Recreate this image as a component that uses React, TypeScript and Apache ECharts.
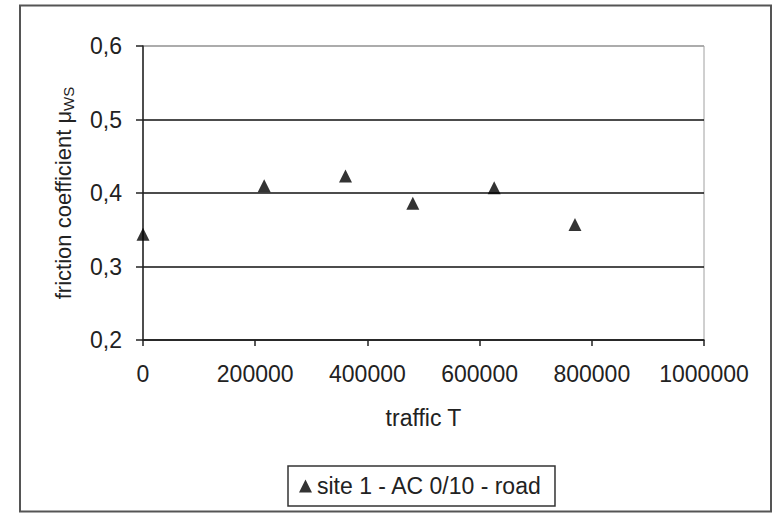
import React, { useEffect, useRef } from "react";
import * as echarts from "echarts";

const trafficValues = [0, 216000, 361000, 481000, 626000, 770000];
const frictionValues = [0.344, 0.41, 0.423, 0.386, 0.407, 0.357];
const seriesName = "site 1 - AC 0/10 - road";
const xAxisTitle = "traffic T";
const yAxisTitleMain = "friction coefficient μ";
const yAxisTitleSub = "WS";

const FONT = "'Liberation Sans', Arial, sans-serif";

export default function App() {
  const ref = useRef<HTMLDivElement>(null);
  useEffect(() => {
    if (!ref.current) return;
    const chart = echarts.init(ref.current, undefined, { renderer: "svg" });
    const data = trafficValues.map((t, i) => [t, frictionValues[i]]);
    chart.setOption({
      animation: false,
      backgroundColor: "#fff",
      textStyle: { fontFamily: FONT, color: "#222" },
      grid: { left: 143, right: 71, top: 46, bottom: 174, show: true, borderColor: "#a0a0a0", borderWidth: 1 },
      xAxis: {
        type: "value",
        min: 0,
        max: 1000000,
        interval: 200000,
        name: xAxisTitle,
        nameLocation: "middle",
        nameGap: 66,
        nameTextStyle: { fontSize: 23, color: "#222", fontFamily: FONT },
        axisLine: { show: true, lineStyle: { color: "#222", width: 1.5 } },
        axisTick: { show: true, length: 6, lineStyle: { color: "#222", width: 1.5 } },
        axisLabel: { fontSize: 23, color: "#222", margin: 22, formatter: (v: number) => String(v) },
        splitLine: { show: false },
      },
      yAxis: {
        type: "value",
        min: 0.2,
        max: 0.6,
        interval: 0.1,
        name: `{a|${yAxisTitleMain}}{s|${yAxisTitleSub}}`,
        nameLocation: "middle",
        nameGap: 69,
        nameTextStyle: {
          fontFamily: FONT,
          color: "#222",
          rich: {
            a: { fontSize: 22, lineHeight: 26, color: "#222", fontFamily: FONT, verticalAlign: "bottom" },
            s: { fontSize: 15, lineHeight: 15, color: "#222", fontFamily: FONT, verticalAlign: "bottom", padding: [0, 0, -2, 0] },
          },
        },
        axisLine: { show: true, lineStyle: { color: "#222", width: 1.5 } },
        axisTick: { show: true, length: 7, lineStyle: { color: "#222", width: 1.5 } },
        axisLabel: {
          fontSize: 23,
          color: "#222",
          margin: 21,
          formatter: (v: number) => v.toFixed(1).replace(".", ","),
        },
        splitLine: {
          show: true,
          lineStyle: { color: ["#111", "#111", "#111", "#111", "#a0a0a0"], width: 1.5 },
        },
      },
      legend: {
        show: true,
        left: 288,
        top: 466,
        orient: "horizontal",
        padding: [7, 13, 7, 11],
        borderColor: "#333",
        borderWidth: 1.5,
        itemWidth: 13,
        itemHeight: 13,
        itemGap: 6,
        textStyle: { fontSize: 23, color: "#222", fontFamily: FONT, lineHeight: 26 },
        data: [{ name: seriesName, icon: "triangle" }],
      },
      graphic: [
        {
          type: "rect",
          shape: { x: 20, y: 5.5, width: 751, height: 506 },
          style: { fill: "none", stroke: "#555", lineWidth: 2 },
          silent: true,
          z: -1,
        },
      ],
      series: [
        {
          name: seriesName,
          type: "scatter",
          symbol: "triangle",
          symbolSize: 13,
          itemStyle: { color: "#000" },
          data,
        },
      ],
    });
    return () => chart.dispose();
  }, []);
  return (
    <div
      ref={ref}
      style={{ position: "fixed", left: 0, top: 0, width: 775, height: 514, background: "#fff" }}
    />
  );
}
